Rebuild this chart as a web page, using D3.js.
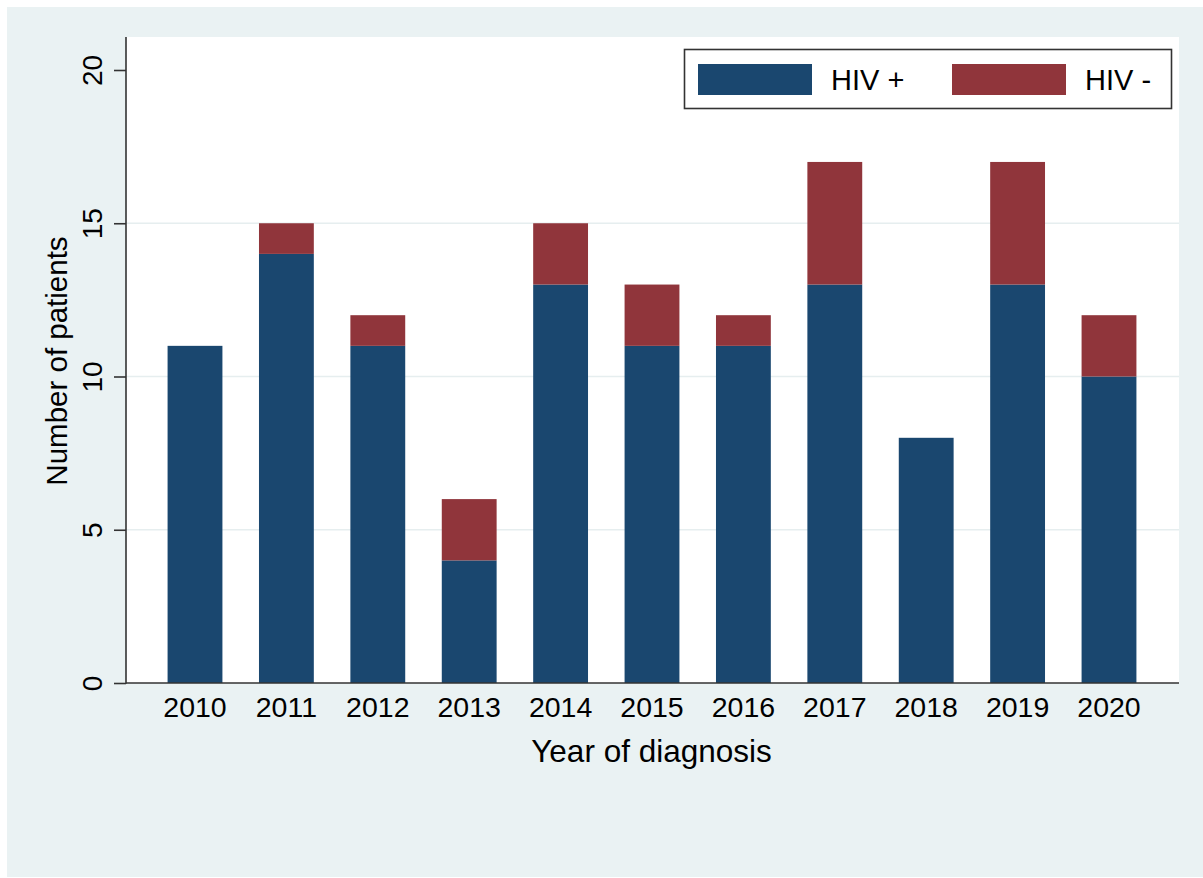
<!DOCTYPE html>
<html>
<head>
<meta charset="utf-8">
<script src="https://cdn.jsdelivr.net/npm/d3@7"></script>
<style>
  html, body { margin: 0; padding: 0; background: #ffffff; }
  svg { display: block; }
  text { font-family: "Liberation Sans", Arial, Helvetica, sans-serif; fill: #000; }
</style>
</head>
<body>
<svg id="chart" width="1203" height="878"></svg>
<script>
const years = ["2010","2011","2012","2013","2014","2015","2016","2017","2018","2019","2020"];
const hivPos = [11, 14, 11, 4, 13, 11, 11, 13, 8, 13, 10];
const hivNeg = [0, 1, 1, 2, 2, 2, 1, 4, 0, 4, 2];
const seriesNames = ["HIV +", "HIV -"];
const seriesColors = ["#1A476F", "#90353B"];
const yTicks = [0, 5, 10, 15, 20];
const gridTicks = [5, 10, 15];

const svg = d3.select("#chart");
const W = 1203, H = 878;

// outer graph region
svg.append("rect").attr("x", 0).attr("y", 0).attr("width", W).attr("height", H).attr("fill", "#ffffff");
svg.append("rect").attr("x", 7).attr("y", 7).attr("width", W - 7).attr("height", H - 8).attr("fill", "#EAF2F3");

// plot region
const plot = { left: 126, right: 1179, top: 37, bottom: 683 };
svg.append("rect").attr("x", plot.left).attr("y", plot.top)
  .attr("width", plot.right - plot.left).attr("height", plot.bottom - plot.top)
  .attr("fill", "#ffffff");

const y = d3.scaleLinear().domain([0, 20]).range([683, 70]);
const x = d3.scaleBand().domain(years).range([149.3, 1154.7]).paddingInner(0.4).paddingOuter(0.2);

// gridlines
svg.append("g").selectAll("line").data(gridTicks).join("line")
  .attr("x1", plot.left).attr("x2", plot.right)
  .attr("y1", d => y(d)).attr("y2", d => y(d))
  .attr("stroke", "#E6EEEF").attr("stroke-width", 1.5);

// stacked data
const rows = years.map((yr, i) => ({ year: yr, pos: hivPos[i], neg: hivNeg[i] }));
const stack = d3.stack().keys(["pos", "neg"])(rows);

svg.append("g").selectAll("g").data(stack).join("g")
  .attr("fill", (d, i) => seriesColors[i])
  .selectAll("rect").data(d => d.filter(s => s[1] - s[0] > 0)).join("rect")
  .attr("x", d => x(d.data.year))
  .attr("width", x.bandwidth())
  .attr("y", d => y(d[1]))
  .attr("height", d => y(d[0]) - y(d[1]));

// y axis
const yAxis = d3.axisLeft(y).tickValues(yTicks).tickSize(12).tickSizeOuter(0).tickFormat(d3.format("d"));
const gy = svg.append("g").attr("transform", `translate(${plot.left},0)`).call(yAxis);
gy.select(".domain").remove();
gy.selectAll(".tick line").attr("stroke", "#333").attr("stroke-width", 1.6);
gy.selectAll(".tick text")
  .attr("font-size", 28).attr("fill", "#000")
  .attr("font-family", '"Liberation Sans", Arial, sans-serif')
  .attr("x", null).attr("dy", null)
  .attr("text-anchor", "middle")
  .attr("transform", d => `translate(-24,0) rotate(-90)`)
  .attr("y", 0);
svg.append("line").attr("x1", plot.left).attr("x2", plot.left)
  .attr("y1", plot.top).attr("y2", plot.bottom + 0.8)
  .attr("stroke", "#333").attr("stroke-width", 1.6);

// x axis
const xAxis = d3.axisBottom(x).tickSize(0).tickSizeOuter(0);
const gx = svg.append("g").attr("transform", `translate(0,${plot.bottom})`).call(xAxis);
gx.select(".domain").remove();
gx.selectAll(".tick text").attr("font-size", 28.5).attr("fill", "#000")
  .attr("font-family", '"Liberation Sans", Arial, sans-serif')
  .attr("dy", null).attr("y", 34);
svg.append("line").attr("x1", plot.left).attr("x2", plot.right)
  .attr("y1", plot.bottom).attr("y2", plot.bottom)
  .attr("stroke", "#333").attr("stroke-width", 1.6);

// axis titles
svg.append("text").attr("x", 651.5).attr("y", 762)
  .attr("text-anchor", "middle").attr("font-size", 31.5).text("Year of diagnosis");
svg.append("text").attr("transform", `translate(67,${(236 + 486) / 2}) rotate(-90)`)
  .attr("text-anchor", "middle").attr("font-size", 29.5).text("Number of patients");

// legend
const lg = svg.append("g");
lg.append("rect").attr("x", 684.5).attr("y", 49.5).attr("width", 487).attr("height", 59)
  .attr("fill", "#ffffff").attr("stroke", "#333").attr("stroke-width", 1.6);
const legendX = [698, 952];
seriesNames.forEach((name, i) => {
  lg.append("rect").attr("x", legendX[i]).attr("y", 64).attr("width", 114).attr("height", 31)
    .attr("fill", seriesColors[i]);
  lg.append("text").attr("x", legendX[i] + 133).attr("y", 90).attr("font-size", 29).text(name);
});
</script>
</body>
</html>
